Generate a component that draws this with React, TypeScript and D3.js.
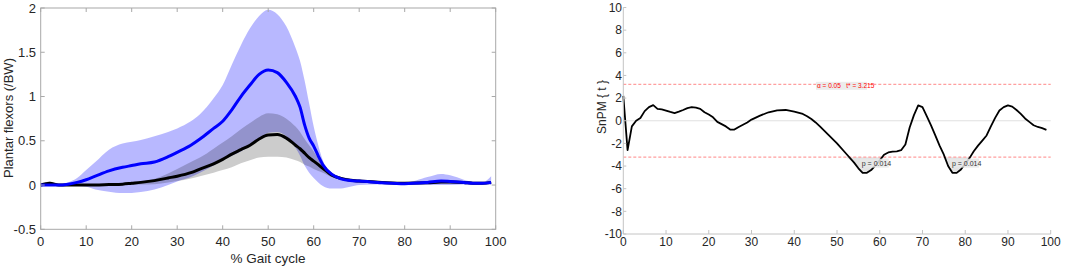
import React from "react";
import * as d3 from "d3";

// ---------- Left chart data ----------
const gaitX = [0,2,4,6,8,10,12,15,18,20,22,25,28,30,33,35,38,40,42,44,46,48,50,52,54,56,57,58,59,60,61,62,64,66,68,70,75,80,85,88,90,93,95,97,99];
const blueMean = [0,0,0,0.01,0.03,0.06,0.10,0.16,0.20,0.22,0.24,0.26,0.32,0.37,0.45,0.52,0.64,0.72,0.85,1.0,1.13,1.25,1.30,1.27,1.16,1.0,0.88,0.68,0.53,0.44,0.33,0.23,0.12,0.07,0.05,0.045,0.026,0.015,0.03,0.045,0.04,0.03,0.02,0.02,0.03];
const blueUpper = [0,0.005,0.01,0.03,0.08,0.17,0.26,0.40,0.47,0.49,0.51,0.55,0.60,0.64,0.72,0.80,0.98,1.13,1.36,1.58,1.77,1.91,1.98,1.93,1.79,1.55,1.40,1.18,0.92,0.66,0.45,0.28,0.14,0.09,0.075,0.06,0.035,0.026,0.09,0.125,0.11,0.06,0.035,0.03,0.10];
const blueLower = [0,-0.005,-0.005,-0.01,-0.01,-0.02,-0.05,-0.075,-0.09,-0.09,-0.08,-0.05,0,0.04,0.09,0.14,0.22,0.28,0.33,0.38,0.44,0.51,0.59,0.60,0.55,0.42,0.33,0.22,0.14,0.08,0.03,-0.01,-0.04,-0.04,-0.02,0,0.01,0.01,0,0,0,0.005,0.01,0.01,0];
const blackMean = [0,0.02,0,0,0,0,0,0.005,0.01,0.02,0.03,0.05,0.08,0.10,0.14,0.18,0.24,0.29,0.35,0.40,0.45,0.52,0.565,0.57,0.53,0.45,0.41,0.36,0.31,0.27,0.23,0.19,0.11,0.075,0.055,0.045,0.03,0.02,0.025,0.035,0.035,0.03,0.02,0.02,0.03];
const grayUpper = [0,0.04,0.01,0.01,0.01,0.01,0.01,0.015,0.02,0.03,0.04,0.07,0.13,0.18,0.26,0.31,0.41,0.48,0.55,0.63,0.70,0.77,0.81,0.80,0.75,0.66,0.60,0.52,0.45,0.38,0.31,0.25,0.14,0.095,0.07,0.06,0.04,0.025,0.035,0.05,0.05,0.04,0.035,0.035,0.04];
const grayLower = [0,0,-0.01,-0.01,-0.01,-0.01,-0.01,-0.005,0,0,0.005,0.01,0.03,0.045,0.075,0.10,0.14,0.17,0.20,0.245,0.28,0.31,0.32,0.32,0.31,0.28,0.26,0.23,0.21,0.18,0.16,0.14,0.09,0.06,0.04,0.03,0.02,0.01,0.015,0.02,0.02,0.02,0.01,0.01,0.02];
const leftXTicks = [0,10,20,30,40,50,60,70,80,90,100];
const leftYTicks = [-0.5,0,0.5,1,1.5,2];

// ---------- Right chart data ----------
const snpmX = [0,1,2,3,4,5,6,7,8,9,10,11,12,13,14,15,16,17,18,19,20,21,22,23,24,25,26,27,28,29,30,32,34,36,38,40,42,43,44,45,46,48,50,52,54,55,56,57,58,59,60,61,62,63,64,65,66,67,68,69,70,71,72,73,74,75,76,77,78,79,80,81,82,83,84,85,86,87,88,89,90,91,92,93,94,95,96,97,98,99];
const snpmT = [2.2,-2.6,-0.5,0.0,0.25,0.85,1.2,1.38,1.05,1.0,0.9,0.78,0.68,0.8,0.95,1.12,1.2,1.15,1.05,0.75,0.55,0.3,-0.1,-0.3,-0.5,-0.78,-0.78,-0.55,-0.35,-0.15,0.1,0.45,0.75,0.92,0.95,0.8,0.6,0.4,0.15,-0.15,-0.5,-1.25,-2.0,-2.85,-3.7,-4.2,-4.6,-4.6,-4.35,-3.95,-3.5,-3.0,-2.8,-2.72,-2.7,-2.6,-2.1,-0.6,0.5,1.35,1.2,0.4,-0.4,-1.3,-2.2,-3.0,-4.0,-4.6,-4.6,-4.3,-3.8,-3.3,-2.7,-2.2,-1.75,-1.3,-0.5,0.25,0.9,1.2,1.36,1.25,0.95,0.6,0.2,-0.1,-0.4,-0.55,-0.65,-0.8];
const tStar = 3.215;
const rightXTicks = [0,10,20,30,40,50,60,70,80,90,100];
const rightYTicks = [-10,-8,-6,-4,-2,0,2,4,6,8,10];
const clusterLabels = [
  { x: 55.8, text: "p = 0.014" },
  { x: 76.9, text: "p = 0.014" },
];
const alphaText = "α = 0.05   t* = 3.215";

const FONT = "'Liberation Sans', Arial, Helvetica, sans-serif";

export default function App() {
  // Left chart scales
  const lx = d3.scaleLinear().domain([0, 100]).range([40.7, 495.7]);
  const ly = d3.scaleLinear().domain([-0.5, 2]).range([229.3, 8]);
  const idx = gaitX.map((_, i) => i);
  const band = (lo: number[], hi: number[]) =>
    d3.area<number>().x((i) => lx(gaitX[i])).y0((i) => ly(lo[i])).y1((i) => ly(hi[i])).curve(d3.curveMonotoneX)(idx) || "";
  const line = (v: number[]) =>
    d3.line<number>().x((i) => lx(gaitX[i])).y((i) => ly(v[i])).curve(d3.curveMonotoneX)(idx) || "";

  // Right chart scales
  const rx = d3.scaleLinear().domain([0, 100]).range([623.3, 1050.7]);
  const ry = d3.scaleLinear().domain([-10, 10]).range([234, 7.5]);
  const ridx = snpmX.map((_, i) => i);
  const snpmLine = d3.line<number>().x((i) => rx(snpmX[i])).y((i) => ry(snpmT[i]))(ridx) || "";
  const clusterArea = d3.area<number>()
    .x((i) => rx(snpmX[i]))
    .y0(() => ry(-tStar))
    .y1((i) => ry(Math.min(snpmT[i], -tStar)))(ridx) || "";

  const L = lx.range(), T = ly.range();
  const frame = "#a8a8a8";
  const axisTxt = "#262626";

  return (
    <svg width={1065} height={268} style={{ position: "absolute", left: 0, top: 0, background: "#fff" }}>
      {/* ---------- LEFT CHART ---------- */}
      <path d={band(blueLower, blueUpper)} fill="rgb(0,0,255)" fillOpacity={0.28} stroke="none" />
      <path d={band(grayLower, grayUpper)} fill="rgb(0,0,0)" fillOpacity={0.2} stroke="none" />
      <path d={line(blackMean)} fill="none" stroke="#000" strokeWidth={3} />
      <path d={line(blueMean)} fill="none" stroke="#0000ff" strokeWidth={3} />
      <rect x={L[0]} y={T[1]} width={L[1] - L[0]} height={T[0] - T[1]} fill="none" stroke={frame} strokeWidth={1} />
      {leftXTicks.map((t) => (
        <g key={"lxt" + t}>
          <line x1={lx(t)} x2={lx(t)} y1={T[0]} y2={T[0] - 4} stroke={frame} />
          <line x1={lx(t)} x2={lx(t)} y1={T[1]} y2={T[1] + 4} stroke={frame} />
          <text x={lx(t)} y={246} textAnchor="middle" fontFamily={FONT} fontSize={13} fill={axisTxt}>{t}</text>
        </g>
      ))}
      {leftYTicks.map((t) => (
        <g key={"lyt" + t}>
          <line x1={L[0]} x2={L[0] + 4} y1={ly(t)} y2={ly(t)} stroke={frame} />
          <line x1={L[1]} x2={L[1] - 4} y1={ly(t)} y2={ly(t)} stroke={frame} />
          <text x={36} y={ly(t) + 4.5} textAnchor="end" fontFamily={FONT} fontSize={13} fill={axisTxt}>{t}</text>
        </g>
      ))}
      <text x={268} y={263} textAnchor="middle" fontFamily={FONT} fontSize={13.5} fill={axisTxt}>% Gait cycle</text>
      <text transform="translate(12.5,118) rotate(-90)" textAnchor="middle" fontFamily={FONT} fontSize={13} fill={axisTxt}>Plantar flexors (/BW)</text>

      {/* ---------- RIGHT CHART ---------- */}
      <path d={clusterArea} fill="#e3e3e3" stroke="none" />
      <line x1={rx(0)} x2={rx(100)} y1={ry(0)} y2={ry(0)} stroke="#e0e0e0" strokeWidth={1} />
      <line x1={rx(0)} x2={rx(100)} y1={ry(tStar)} y2={ry(tStar)} stroke="#ff9f9f" strokeWidth={1.2} strokeDasharray="3,2" />
      <line x1={rx(0)} x2={rx(100)} y1={ry(-tStar)} y2={ry(-tStar)} stroke="#ff9f9f" strokeWidth={1.2} strokeDasharray="3,2" />
      <path d={snpmLine} fill="none" stroke="#000" strokeWidth={1.8} strokeLinejoin="round" />
      {clusterLabels.map((c, i) => (
        <g key={"cl" + i}>
          <rect x={rx(c.x) - 2} y={ry(-tStar) + 1.5} width={29} height={9} fill="#e8e8e8" fillOpacity={0.85} />
          <text x={rx(c.x)} y={ry(-tStar) + 8.5} fontFamily={FONT} fontSize={7} fill="#333">{c.text}</text>
        </g>
      ))}
      <rect x={816} y={ry(tStar) - 2.5} width={51} height={8} fill="#ececec" />
      <text x={817} y={ry(tStar) + 3.5} fontFamily={FONT} fontSize={6.5} fill="#ff0000" style={{ whiteSpace: "pre" }}>{alphaText}</text>

      <line x1={rx(0)} x2={rx(0)} y1={ry(-10)} y2={ry(10)} stroke="#c4c4c4" strokeWidth={1} />
      <line x1={rx(0)} x2={rx(100)} y1={ry(-10)} y2={ry(-10)} stroke="#c4c4c4" strokeWidth={1} />
      {rightXTicks.map((t) => (
        <g key={"rxt" + t}>
          <line x1={rx(t)} x2={rx(t)} y1={ry(-10)} y2={ry(-10) - 4} stroke="#c4c4c4" />
          <text x={rx(t)} y={246} textAnchor="middle" fontFamily={FONT} fontSize={12} fill={axisTxt}>{t}</text>
        </g>
      ))}
      {rightYTicks.map((t) => (
        <g key={"ryt" + t}>
          <line x1={rx(0)} x2={rx(0) + 3} y1={ry(t)} y2={ry(t)} stroke="#c4c4c4" />
          <text x={622} y={ry(t) + 4.3} textAnchor="end" fontFamily={FONT} fontSize={12} fill={axisTxt}>{t}</text>
        </g>
      ))}
      <text transform="translate(606,107) rotate(-90)" textAnchor="middle" fontFamily={FONT} fontSize={12} fill={axisTxt} style={{ whiteSpace: "pre" }}>{"SnPM { t }"}</text>
    </svg>
  );
}
